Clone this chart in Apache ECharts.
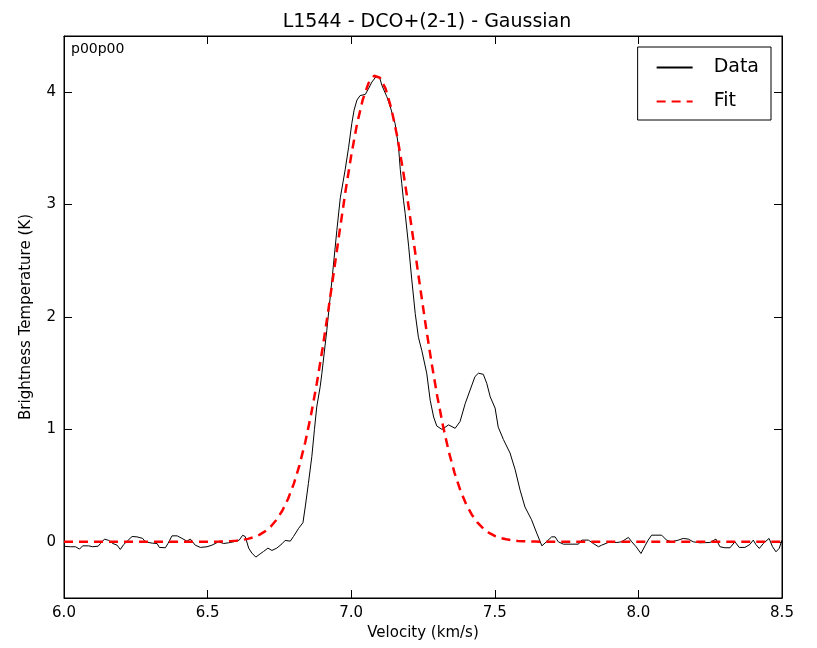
<!DOCTYPE html>
<html>
<head>
<meta charset="utf-8">
<script src="https://cdn.jsdelivr.net/npm/echarts@6/dist/echarts.min.js"></script>
<style>html,body{margin:0;padding:0;background:#fff;}#c{width:817px;height:648px;}</style>
</head>
<body>
<div id="c"></div>
<script>
// Observed spectrum (velocity km/s, brightness temperature K)
var dataV = [6.000,6.005,6.022,6.040,6.054,6.065,6.086,6.100,6.119,6.127,6.141,6.156,6.170,6.185,6.196,6.208,6.220,6.237,6.254,6.274,6.283,6.307,6.324,6.332,6.353,6.362,6.376,6.394,6.411,6.428,6.440,6.457,6.475,6.498,6.515,6.538,6.556,6.573,6.590,6.610,6.622,6.631,6.643,6.654,6.668,6.683,6.695,6.710,6.724,6.741,6.759,6.770,6.788,6.799,6.817,6.832,6.840,6.851,6.863,6.872,6.880,6.892,6.898,6.915,6.933,6.950,6.962,6.979,6.991,7.002,7.010,7.020,7.031,7.049,7.060,7.072,7.087,7.099,7.107,7.124,7.136,7.153,7.165,7.171,7.176,7.182,7.188,7.200,7.211,7.223,7.234,7.246,7.263,7.275,7.287,7.298,7.316,7.339,7.362,7.379,7.397,7.414,7.431,7.443,7.460,7.472,7.484,7.501,7.512,7.530,7.553,7.571,7.588,7.605,7.628,7.646,7.664,7.681,7.698,7.710,7.721,7.739,7.791,7.803,7.826,7.843,7.861,7.872,7.895,7.925,7.942,7.965,7.977,7.992,8.009,8.023,8.034,8.046,8.081,8.098,8.116,8.139,8.156,8.174,8.191,8.214,8.249,8.270,8.284,8.301,8.319,8.336,8.351,8.371,8.388,8.400,8.409,8.421,8.435,8.455,8.467,8.479,8.490,8.500];
var dataT = [-0.040,-0.039,-0.044,-0.044,-0.065,-0.036,-0.036,-0.044,-0.039,-0.015,0.024,0.012,-0.015,-0.030,-0.068,-0.024,0.006,0.047,0.044,0.030,0.000,-0.012,-0.015,-0.050,-0.053,-0.015,0.053,0.053,0.030,0.006,0.024,-0.030,-0.050,-0.044,-0.030,0.000,-0.015,-0.009,0.000,0.015,0.058,0.047,-0.056,-0.100,-0.136,-0.107,-0.086,-0.056,-0.077,-0.056,-0.018,0.012,0.006,0.047,0.120,0.170,0.310,0.520,0.760,1.000,1.200,1.380,1.500,1.880,2.330,2.770,3.060,3.310,3.510,3.720,3.840,3.930,3.970,3.980,4.030,4.090,4.140,4.130,4.060,3.960,3.870,3.720,3.510,3.310,3.190,3.040,2.920,2.630,2.330,2.030,1.820,1.700,1.500,1.260,1.110,1.030,1.000,1.040,1.010,1.070,1.230,1.350,1.470,1.500,1.490,1.410,1.290,1.190,1.020,0.910,0.790,0.640,0.460,0.310,0.196,0.077,-0.036,0.003,0.044,0.044,0.000,-0.021,-0.021,0.015,0.015,-0.015,-0.044,-0.030,-0.006,-0.006,0.000,0.039,0.000,-0.044,-0.104,-0.036,0.015,0.059,0.059,0.015,0.000,0.015,0.030,0.024,0.000,-0.009,-0.006,0.024,-0.044,-0.053,-0.053,0.000,-0.050,-0.050,-0.024,0.015,-0.024,-0.059,-0.015,0.030,-0.044,-0.089,-0.059,0.015];

// Gaussian fit curve
var fitV = [6.00,6.50,6.52,6.54,6.56,6.58,6.60,6.62,6.64,6.66,6.68,6.70,6.72,6.74,6.76,6.78,6.80,6.82,6.84,6.86,6.88,6.90,6.92,6.94,6.96,6.98,7.00,7.02,7.04,7.06,7.08,7.10,7.12,7.14,7.16,7.18,7.20,7.22,7.24,7.26,7.28,7.30,7.32,7.34,7.36,7.38,7.40,7.42,7.44,7.46,7.48,7.50,7.52,7.54,7.56,7.58,7.60,7.62,7.64,7.66,7.68,7.70,8.50];
var fitT = [0.000,0.001,0.001,0.002,0.004,0.006,0.010,0.016,0.026,0.041,0.062,0.093,0.136,0.196,0.276,0.381,0.515,0.683,0.886,1.128,1.406,1.717,2.055,2.409,2.768,3.116,3.436,3.713,3.932,4.079,4.146,4.129,4.029,3.852,3.609,3.312,2.979,2.625,2.266,1.917,1.589,1.291,1.027,0.800,0.611,0.458,0.335,0.241,0.170,0.117,0.079,0.052,0.034,0.022,0.013,0.008,0.005,0.003,0.002,0.001,0.001,0.000,0.000];

var xTicks = [6.0,6.5,7.0,7.5,8.0,8.5];
var yTicks = [0,1,2,3,4];

var titleText = 'L1544 - DCO+(2-1) - Gaussian';
var xName = 'Velocity (km/s)';
var yName = 'Brightness Temperature (K)';
var posLabel = 'p00p00';

function pairs(a, b) { return a.map(function (v, i) { return [v, b[i]]; }); }

var FONT = 'DejaVu Sans';
var chart = echarts.init(document.getElementById('c'), null, { renderer: 'canvas' });
var tickStyle = { show: true, inside: true, length: 8, lineStyle: { color: '#000', width: 1 } };
var lineAx = { show: true, onZero: false, lineStyle: { color: '#000', width: 1 } };

chart.setOption({
  backgroundColor: '#fff',
  animation: false,
  title: {
    text: titleText, left: 422, top: 8, textAlign: 'center',
    textStyle: { fontFamily: FONT, fontSize: 19, fontWeight: 'normal', color: '#000' }
  },
  grid: { left: 64, right: 35, top: 36, bottom: 50, show: true, borderColor: '#000', borderWidth: 1, backgroundColor: 'transparent' },
  legend: {
    orient: 'vertical', right: 46, top: 47,
    data: ['Data', 'Fit'],
    itemWidth: 36, itemHeight: 14, itemGap: 15,
    padding: [11, 12, 9, 18],
    borderColor: '#000', borderWidth: 1, backgroundColor: '#fff',
    itemStyle: { opacity: 0 },
    textStyle: { fontFamily: FONT, fontSize: 19, color: '#000', padding: [0, 0, 0, 16] }
  },
  graphic: [{
    type: 'text', left: 71, top: 42,
    style: { text: posLabel, font: '14px "DejaVu Sans"', fill: '#000' }
  }],
  xAxis: [{
    type: 'value', min: 6.0, max: 8.5, interval: 0.5,
    name: xName, nameLocation: 'middle', nameGap: 27,
    nameTextStyle: { fontFamily: FONT, fontSize: 15, color: '#000' },
    axisLine: lineAx,
    axisTick: tickStyle,
    axisLabel: { fontFamily: FONT, fontSize: 15, color: '#000', margin: 8, formatter: function (v) { return v.toFixed(1); } },
    splitLine: { show: false }
  }, {
    type: 'value', min: 6.0, max: 8.5, interval: 0.5, position: 'top',
    axisLine: lineAx,
    axisTick: tickStyle, axisLabel: { show: false }, splitLine: { show: false }
  }],
  yAxis: [{
    type: 'value', min: -0.5, max: 4.5,
    name: yName, nameLocation: 'middle', nameGap: 30, nameRotate: 90,
    nameTextStyle: { fontFamily: FONT, fontSize: 15, color: '#000' },
    axisLine: lineAx,
    axisTick: Object.assign({ customValues: yTicks }, tickStyle),
    axisLabel: { fontFamily: FONT, fontSize: 15, color: '#000', margin: 8, customValues: yTicks },
    splitLine: { show: false }
  }, {
    type: 'value', min: -0.5, max: 4.5, position: 'right',
    axisLine: lineAx,
    axisTick: Object.assign({ customValues: yTicks }, tickStyle),
    axisLabel: { show: false, customValues: yTicks }, splitLine: { show: false }
  }],
  series: [{
    name: 'Data', type: 'line', data: pairs(dataV, dataT),
    showSymbol: false, symbol: 'none', smooth: false,
    lineStyle: { color: '#000', width: 1 }, itemStyle: { color: '#000' }, z: 2
  }, {
    name: 'Fit', type: 'line', data: pairs(fitV, fitT),
    showSymbol: false, symbol: 'none', smooth: false,
    lineStyle: { color: '#ff0000', width: 2.5, type: [9, 6] }, itemStyle: { color: '#ff0000' }, z: 3
  }]
});
</script>
</body>
</html>
